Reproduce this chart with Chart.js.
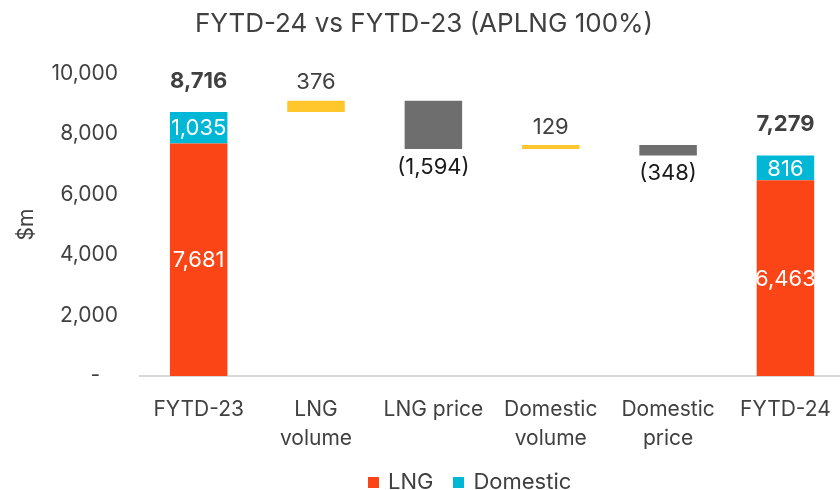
<!DOCTYPE html>
<html>
<head>
<meta charset="utf-8">
<script src="https://cdn.jsdelivr.net/npm/chart.js@4"></script>
<style>
  html, body { margin: 0; padding: 0; background: #fff; overflow: hidden; }
  #wrap { position: relative; width: 850px; height: 490px; }
  #legend { position: absolute; top: 468px; left: 368px; font: 22px Inter, sans-serif; color: #404040; display: flex; gap: 20px; }
  #legend span.sw { display: inline-block; width: 11px; height: 11px; margin-right: 9px; vertical-align: 1px; }
</style>
</head>
<body>
<div id="wrap">
  <canvas id="chart" width="850" height="490"></canvas>
  <div id="legend"></div>
</div>
<script>
const categories = ['FYTD-23', ['LNG', 'volume'], 'LNG price', ['Domestic', 'volume'], ['Domestic', 'price'], 'FYTD-24'];
const lngValues = [7681, null, null, null, null, 6463];
const domesticValues = [1035, null, null, null, null, 816];
const changeValues = [null, 376, -1594, 129, -348, null];
const yMin = 0, yMax = 10000, yStep = 2000;

const colors = { lng: '#FC4516', domestic: '#00B8D6', up: '#FFC72C', down: '#6E6E6E' };
const FONT = 'Inter, sans-serif';

// build floating bars for the waterfall
const lngBars = [], domBars = [], upBars = [], downBars = [], totals = [];
let running = 0;
categories.forEach((c, i) => {
    lngBars.push(null); domBars.push(null); upBars.push(null); downBars.push(null); totals.push(null);
    if (lngValues[i] != null) {
        lngBars[i] = [0, lngValues[i]];
        domBars[i] = [lngValues[i], lngValues[i] + domesticValues[i]];
        running = lngValues[i] + domesticValues[i];
        totals[i] = running;
    } else if (changeValues[i] != null) {
        const ch = changeValues[i];
        if (ch >= 0) upBars[i] = [running, running + ch];
        else downBars[i] = [running + ch, running];
        running += ch;
    }
});

const fmt = v => Math.abs(v).toLocaleString('en-US');

const labelPlugin = {
    id: 'barLabels',
    afterDatasetsDraw(chart) {
        const { ctx } = chart;
        ctx.save();
        ctx.textAlign = 'center';
        ctx.textBaseline = 'middle';
        chart.data.datasets.forEach((ds, di) => {
            const meta = chart.getDatasetMeta(di);
            meta.data.forEach((bar, i) => {
                if (ds.data[i] == null) return;
                const top = Math.min(bar.y, bar.base);
                const bottom = Math.max(bar.y, bar.base);
                if (ds.kind === 'inside') {
                    const v = ds.kind2 === 'lng' ? lngValues[i] : domesticValues[i];
                    ctx.font = '22px ' + FONT;
                    ctx.fillStyle = '#ffffff';
                    ctx.fillText(fmt(v), bar.x, (top + bottom) / 2 + 1);
                    if (ds.kind2 === 'dom') {
                        ctx.font = 'bold 22px ' + FONT;
                        ctx.fillStyle = '#404040';
                        ctx.fillText(fmt(totals[i]), bar.x, top - 31);
                    }
                } else if (ds.kind === 'up') {
                    ctx.font = '22px ' + FONT;
                    ctx.fillStyle = '#404040';
                    ctx.fillText(fmt(changeValues[i]), bar.x, top - 18);
                } else if (ds.kind === 'down') {
                    ctx.font = '22px ' + FONT;
                    ctx.fillStyle = '#1a1a1a';
                    ctx.fillText('(' + fmt(changeValues[i]) + ')', bar.x, bottom + 18);
                }
            });
        });
        ctx.restore();
    }
};

const common = { barPercentage: 0.49, categoryPercentage: 1.0, borderWidth: 0 };

const config = {
    type: 'bar',
    data: {
        labels: categories,
        datasets: [
            { label: 'LNG', data: lngBars, backgroundColor: colors.lng, kind: 'inside', kind2: 'lng', ...common },
            { label: 'Domestic', data: domBars, backgroundColor: colors.domestic, kind: 'inside', kind2: 'dom', ...common },
            { label: 'Increase', data: upBars, backgroundColor: colors.up, kind: 'up', ...common },
            { label: 'Decrease', data: downBars, backgroundColor: colors.down, kind: 'down', ...common }
        ]
    },
    options: {
        responsive: false,
        animation: false,
        layout: { padding: { left: 0, right: 2, top: 0, bottom: 0 } },
        plugins: {
            legend: { display: false },
            tooltip: { enabled: false },
            title: {
                display: true,
                text: 'FYTD-24 vs FYTD-23 (APLNG 100%)',
                color: '#404040',
                font: { family: FONT, size: 26, weight: 'normal' },
                padding: { top: 9, bottom: 33 }
            }
        },
        scales: {
            x: {
                stacked: true,
                grid: { display: false, drawTicks: false },
                border: { display: true, color: '#d9d9d9', width: 2 },
                ticks: {
                    color: '#404040',
                    font: { family: FONT, size: 21, lineHeight: 1.4 },
                    padding: 19,
                    maxRotation: 0,
                    autoSkip: false
                },
                afterFit(scale) { scale.height = 114; }
            },
            y: {
                min: yMin,
                max: yMax,
                grid: { display: false, drawTicks: false },
                border: { display: false },
                ticks: {
                    stepSize: yStep,
                    color: '#404040',
                    padding: 22,
                    font: { family: FONT, size: 21 },
                    callback: v => v === 0 ? '-   ' : v.toLocaleString('en-US')
                },
                title: {
                    display: true,
                    text: '$m',
                    color: '#404040',
                    font: { family: FONT, size: 21 },
                    padding: { top: 14, bottom: 0 }
                },
                afterFit(scale) { scale.width = 140; }
            }
        }
    },
    plugins: [labelPlugin]
};

new Chart(document.getElementById('chart'), config);

// legend for the two stacked series
const legend = document.getElementById('legend');
[['LNG', colors.lng], ['Domestic', colors.domestic]].forEach(([name, col]) => {
    const item = document.createElement('div');
    item.innerHTML = '<span class="sw" style="background:' + col + '"></span>' + name;
    legend.appendChild(item);
});
</script>
</body>
</html>
